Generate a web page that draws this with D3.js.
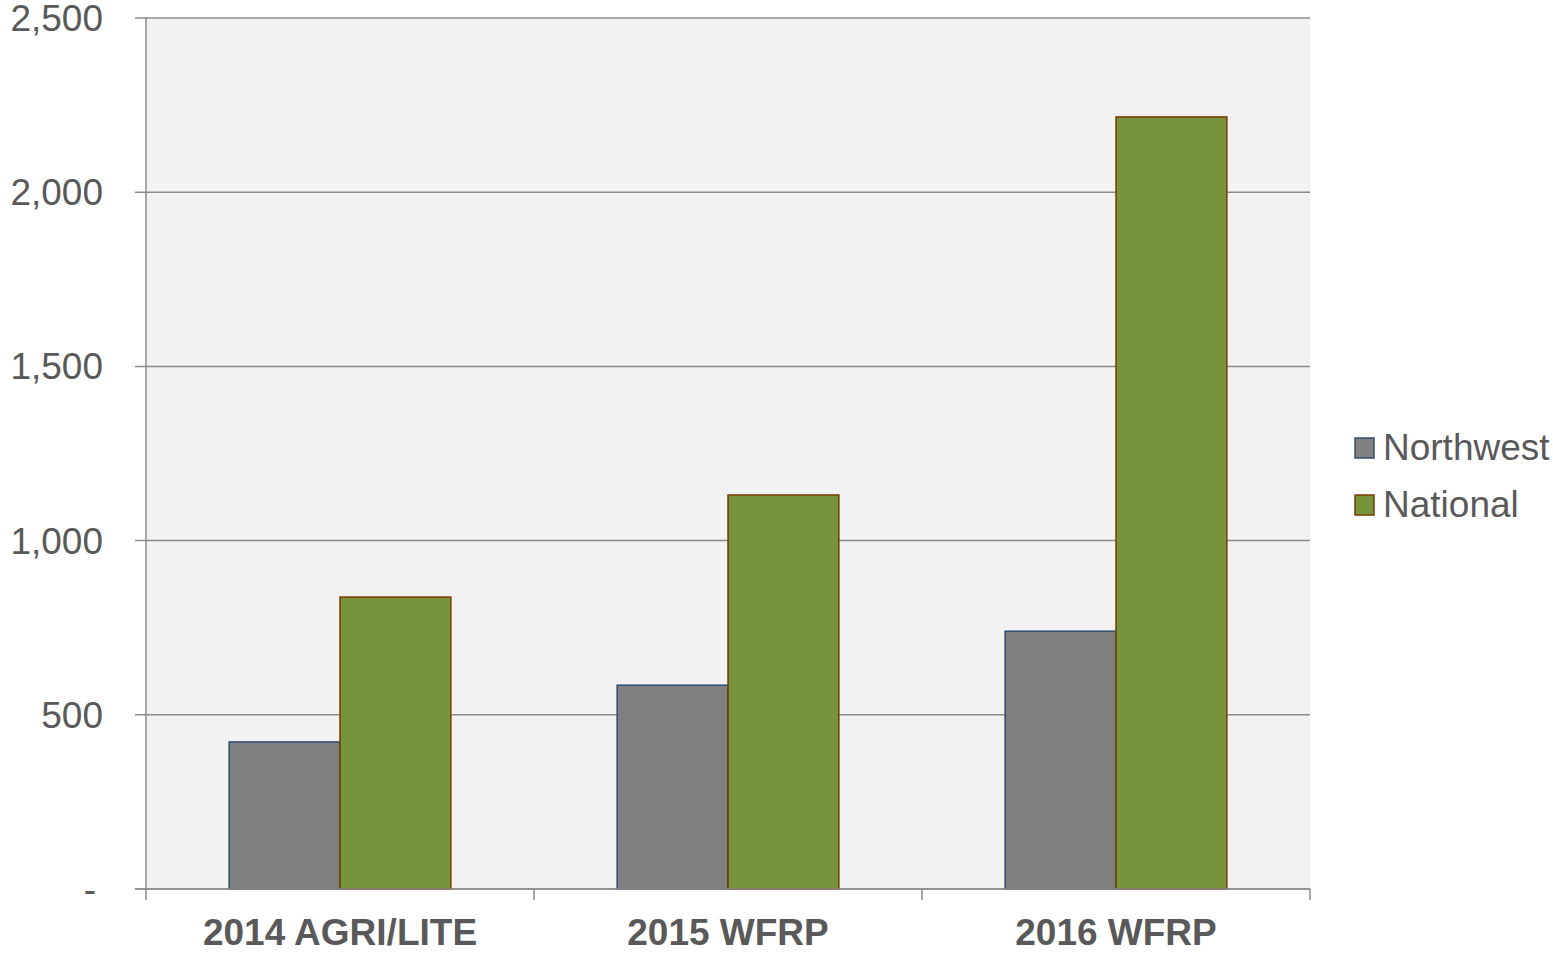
<!DOCTYPE html>
<html lang="en">
<head>
  <meta charset="UTF-8" />
  <title>Northwest vs National</title>
  <script src="https://d3js.org/d3.v7.min.js"></script>
  <style>
    body { margin: 0; background: #fff; font-family: "Liberation Sans", Arial, sans-serif; }
    svg { display: block; }
    .ytick text { font-size: 37px; fill: #595959; }
    .xlab { font-size: 37px; font-weight: bold; fill: #595959; }
    .legend text { font-size: 37px; fill: #595959; }
  </style>
</head>
<body>
  <svg id="chart" width="1553" height="955"></svg>
  <script>
    const categories = ['2014 AGRI/LITE', '2015 WFRP', '2016 WFRP'];
    const seriesNames = ['Northwest', 'National'];
    const northwest = [422, 585, 740];
    const national = [838, 1131, 2216];
    const yTicks = [0, 500, 1000, 1500, 2000, 2500];

    const fills = ['#808080', '#77933C'];
    const strokes = ['#2E4D6E', '#7A3A06'];

    const svg = d3.select('#chart');
    const plotL = 146, plotR = 1310, plotT = 18, plotB = 889;

    const x = d3.scaleBand().domain(categories).range([plotL, plotR]);
    const xs = d3.scaleBand().domain(seriesNames).range([0, x.bandwidth()]).paddingOuter(0.75).paddingInner(0);
    const y = d3.scaleLinear().domain([0, 2500]).range([plotB, plotT]);

    // plot background
    svg.append('rect').attr('x', plotL).attr('y', plotT)
      .attr('width', plotR - plotL).attr('height', plotB - plotT).attr('fill', '#F2F2F2');

    // gridlines + y ticks
    const yg = svg.append('g').attr('class', 'ytick');
    yTicks.forEach(t => {
      yg.append('line').attr('x1', 135).attr('x2', plotR)
        .attr('y1', y(t)).attr('y2', y(t))
        .attr('stroke', '#8C8C8C').attr('stroke-width', 1.5);
      yg.append('text').attr('x', t === 0 ? 96 : 103).attr('y', y(t) + 13)
        .attr('text-anchor', 'end')
        .text(t === 0 ? '-' : d3.format(',')(t));
    });

    // y axis line
    svg.append('line').attr('x1', plotL).attr('x2', plotL).attr('y1', plotT).attr('y2', plotB)
      .attr('stroke', '#8C8C8C').attr('stroke-width', 1.5);

    // bars
    const data = [northwest, national];
    seriesNames.forEach((s, si) => {
      svg.append('g').selectAll('rect').data(categories).join('rect')
        .attr('x', d => x(d) + xs(s))
        .attr('y', (d, i) => y(data[si][i]))
        .attr('width', xs.bandwidth())
        .attr('height', (d, i) => plotB - y(data[si][i]))
        .attr('fill', fills[si])
        .attr('stroke', strokes[si]).attr('stroke-width', 1.5);
    });

    // x axis baseline and ticks
    svg.append('line').attr('x1', 135).attr('x2', plotR).attr('y1', plotB).attr('y2', plotB)
      .attr('stroke', '#8C8C8C').attr('stroke-width', 1.5);
    const xTickPos = categories.map(c => x(c)).concat([plotR]);
    xTickPos.forEach(p => {
      svg.append('line').attr('x1', p).attr('x2', p).attr('y1', plotB).attr('y2', 900)
        .attr('stroke', '#8C8C8C').attr('stroke-width', 1.5);
    });
    categories.forEach(c => {
      svg.append('text').attr('class', 'xlab')
        .attr('x', x(c) + x.bandwidth() / 2).attr('y', 945)
        .attr('text-anchor', 'middle').text(c);
    });

    // legend
    const lg = svg.append('g').attr('class', 'legend');
    seriesNames.forEach((s, i) => {
      const ly = 448 + i * 57;
      lg.append('rect').attr('x', 1355).attr('y', ly - 10).attr('width', 19).attr('height', 20)
        .attr('fill', fills[i]).attr('stroke', strokes[i]).attr('stroke-width', 1.5);
      lg.append('text').attr('x', 1383).attr('y', ly + 12).text(s);
    });
  </script>
</body>
</html>
